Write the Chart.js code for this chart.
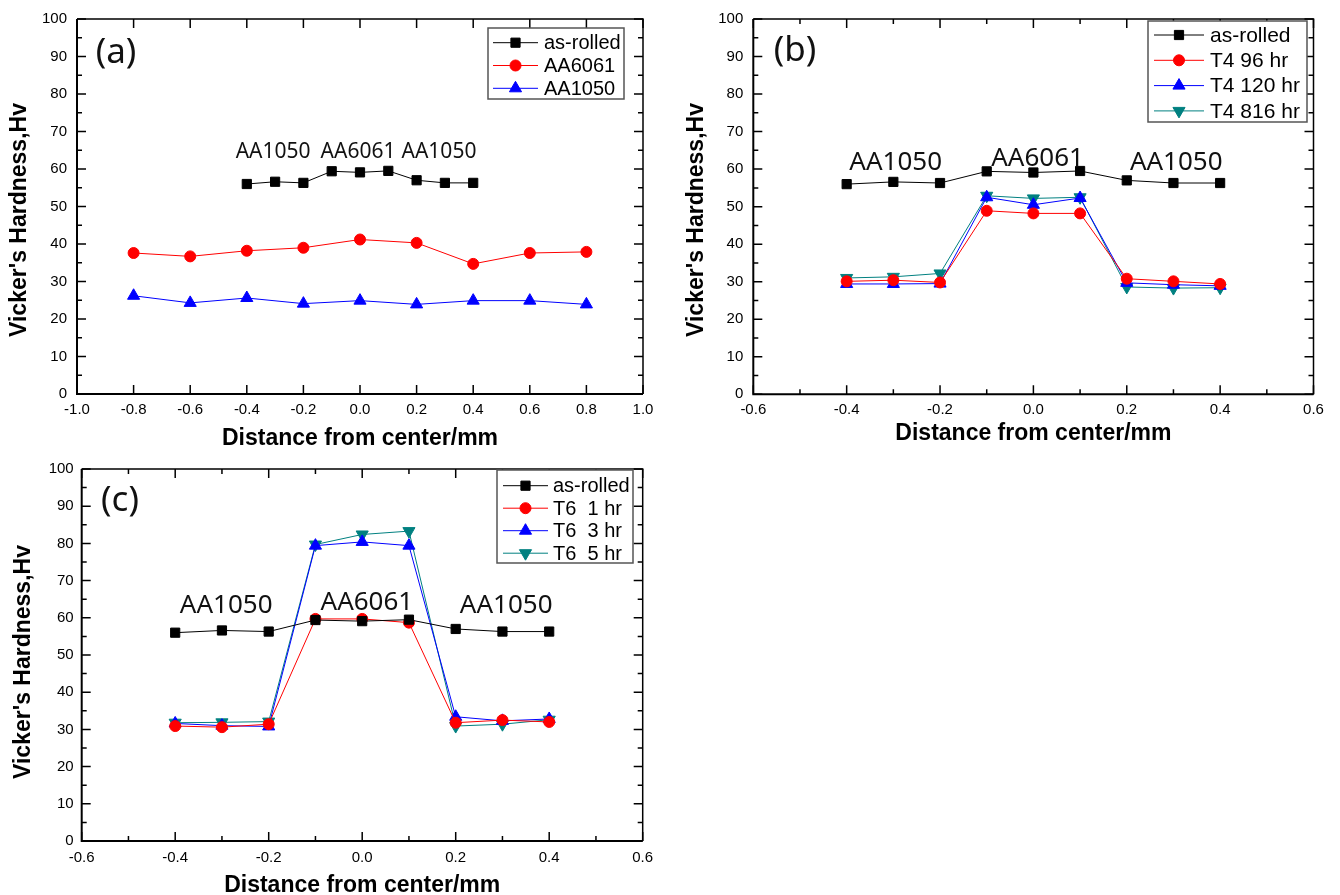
<!DOCTYPE html>
<html>
<head>
<meta charset="utf-8">
<title>Vicker's Hardness profiles</title>
<script src="https://cdn.jsdelivr.net/npm/chart.js@4.4.1/dist/chart.umd.min.js"></script>
<style>
    body { margin: 0; background: #fff; }
    #wrap { position: relative; width: 1340px; height: 895px; overflow: hidden; }
    canvas { position: absolute; }
    #panelA { left: 0; top: 0; }
    #panelB { left: 670px; top: 0; }
    #panelC { left: 0; top: 452px; }
</style>
</head>
<body>
<div id="wrap">
    <canvas id="panelA" width="670" height="452"></canvas>
    <canvas id="panelB" width="670" height="452"></canvas>
    <canvas id="panelC" width="670" height="443"></canvas>
</div>
<script>
// Positions across the joint (mm)
const xInner = [-0.4, -0.3, -0.2, -0.1, 0.0, 0.1, 0.2, 0.3, 0.4];
const xWide = [-0.8, -0.6, -0.4, -0.2, 0.0, 0.2, 0.4, 0.6, 0.8];

// Hardness values (Hv)
const asRolled = [56.0, 56.6, 56.3, 59.4, 59.1, 59.5, 57.0, 56.3, 56.3];
const aa6061 = [37.6, 36.7, 38.2, 39.0, 41.2, 40.3, 34.7, 37.6, 37.9];
const aa1050 = [26.2, 24.3, 25.6, 24.1, 24.9, 23.9, 24.9, 24.9, 23.9];
const t4h96 = [30.1, 30.4, 29.8, 48.9, 48.2, 48.2, 30.8, 30.1, 29.4];
const t4h120 = [29.4, 29.4, 29.5, 52.5, 50.5, 52.3, 29.7, 29.2, 28.9];
const t4h816 = [31.0, 31.3, 32.2, 52.9, 52.2, 52.5, 28.6, 28.3, 28.4];
const t6h1 = [30.9, 30.6, 31.4, 59.7, 59.7, 58.7, 31.8, 32.5, 32.0];
const t6h3 = [31.6, 31.0, 30.8, 79.4, 80.4, 79.4, 33.4, 32.3, 32.8];
const t6h5 = [31.8, 31.9, 32.1, 79.7, 82.4, 83.3, 30.9, 31.4, 32.6];

// Series names
const namesA = ['as-rolled', 'AA6061', 'AA1050'];
const namesB = ['as-rolled', 'T4 96 hr', 'T4 120 hr', 'T4 816 hr'];
const namesC = ['as-rolled', 'T6  1 hr', 'T6  3 hr', 'T6  5 hr'];

// Tick labels
const xTicksA = [-1.0, -0.8, -0.6, -0.4, -0.2, 0.0, 0.2, 0.4, 0.6, 0.8, 1.0];
const xTicksBC = [-0.6, -0.4, -0.2, 0.0, 0.2, 0.4, 0.6];
const yTicks = [0, 10, 20, 30, 40, 50, 60, 70, 80, 90, 100];

const xTitle = 'Distance from center/mm';
const yTitle = "Vicker's Hardness,Hv";

const SANS = "'Liberation Sans', Arial, sans-serif";
const NOTO = "'Noto Sans', 'Open Sans', sans-serif";

// marker styles per series slot
const styles = [
    { color: '#000000', pointStyle: 'rect', pointRadius: 6.5, pointRotation: 0 },
    { color: '#ff0000', pointStyle: 'circle', pointRadius: 5.5, pointRotation: 0 },
    { color: '#0000ff', pointStyle: 'triangle', pointRadius: 7, pointRotation: 0 },
    { color: '#008080', pointStyle: 'triangle', pointRadius: 7, pointRotation: 180 }
];

function makeSet(label, xs, ys, slot) {
    const s = styles[slot];
    return {
        label: label,
        data: xs.map((x, i) => ({ x: x, y: ys[i] })),
        borderColor: s.color,
        backgroundColor: s.color,
        borderWidth: 1,
        pointStyle: s.pointStyle,
        pointRadius: s.pointRadius,
        pointRotation: s.pointRotation,
        pointBorderWidth: 1,
        tension: 0,
        clip: false
    };
}

// Frame, inward ticks, legend box, labels
const decor = {
    id: 'decor',
    afterDraw(chart, args, o) {
        const { ctx, chartArea: a, scales: { x, y } } = chart;
        ctx.save();
        ctx.strokeStyle = '#000';

        // ticks on all four sides, pointing inward
        ctx.lineWidth = 1.5;
        const tick = (px, len, vertical) => {
            ctx.beginPath();
            if (vertical) {
                ctx.moveTo(px, a.bottom); ctx.lineTo(px, a.bottom - len);
                ctx.moveTo(px, a.top); ctx.lineTo(px, a.top + len);
            } else {
                ctx.moveTo(a.left, px); ctx.lineTo(a.left + len, px);
                ctx.moveTo(a.right, px); ctx.lineTo(a.right - len, px);
            }
            ctx.stroke();
        };
        const xs = x.ticks.map(t => t.value);
        xs.forEach(v => tick(x.getPixelForValue(v), 9, true));
        if (o.xMinor) {
            for (let i = 0; i < xs.length - 1; i++) {
                tick(x.getPixelForValue((xs[i] + xs[i + 1]) / 2), 5, true);
            }
        }
        const ys = y.ticks.map(t => t.value);
        ys.forEach(v => tick(y.getPixelForValue(v), 9, false));
        for (let i = 0; i < ys.length - 1; i++) {
            tick(y.getPixelForValue((ys[i] + ys[i + 1]) / 2), 5, false);
        }

        // frame
        ctx.lineWidth = 1.5;
        ctx.beginPath();
        ctx.moveTo(a.left, a.top); ctx.lineTo(a.right, a.top); ctx.lineTo(a.right, a.bottom);
        ctx.stroke();
        ctx.lineWidth = 2;
        ctx.beginPath();
        ctx.moveTo(a.left, a.top); ctx.lineTo(a.left, a.bottom); ctx.lineTo(a.right, a.bottom);
        ctx.stroke();

        // y title
        ctx.save();
        ctx.translate(o.yTitle.x, o.yTitle.y);
        ctx.rotate(-Math.PI / 2);
        ctx.fillStyle = '#000';
        ctx.font = 'bold 23px ' + SANS;
        ctx.textAlign = 'center';
        ctx.textBaseline = 'middle';
        ctx.fillText(yTitle, 0, 0);
        ctx.restore();

        // legend
        const L = o.legend;
        ctx.fillStyle = '#fff';
        ctx.fillRect(L.left, L.top, L.right - L.left, L.bottom - L.top);
        ctx.strokeStyle = '#555';
        ctx.lineWidth = 1.5;
        ctx.strokeRect(L.left, L.top, L.right - L.left, L.bottom - L.top);
        chart.data.datasets.forEach((ds, i) => {
            const yy = L.row0 + i * L.gap;
            ctx.strokeStyle = ds.borderColor;
            ctx.lineWidth = 1;
            ctx.beginPath();
            ctx.moveTo(L.lineL, yy); ctx.lineTo(L.lineR, yy);
            ctx.stroke();
            ctx.fillStyle = ds.backgroundColor;
            Chart.helpers.drawPoint(ctx, {
                pointStyle: ds.pointStyle,
                radius: ds.pointRadius,
                rotation: ds.pointRotation,
                borderWidth: 1
            }, (L.lineL + L.lineR) / 2, yy);
            ctx.fillStyle = '#000';
            ctx.font = L.font + 'px ' + SANS;
            ctx.textAlign = 'left';
            ctx.textBaseline = 'middle';
            ctx.fillText(ds.label, L.textX, yy + 1);
        });

        // region notes
        ctx.fillStyle = '#111';
        ctx.font = o.noteSize + 'px ' + NOTO;
        ctx.textAlign = 'center';
        ctx.textBaseline = 'alphabetic';
        o.notes.forEach(n => {
            ctx.fillText(n.text, x.getPixelForValue(n.x), y.getPixelForValue(n.y));
        });

        // panel tag
        ctx.font = '35px ' + NOTO;
        ctx.textBaseline = 'middle';
        ctx.fillText(o.tag.text, o.tag.x, o.tag.y);
        ctx.restore();
    }
};

function makeChart(id, cfg) {
    const ctx = document.getElementById(id).getContext('2d');
    return new Chart(ctx, {
        type: 'line',
        data: { datasets: cfg.datasets },
        options: {
            responsive: false,
            animation: false,
            events: [],
            layout: { padding: cfg.padding },
            plugins: {
                legend: { display: false },
                tooltip: { enabled: false },
                decor: cfg.decor
            },
            scales: {
                x: {
                    type: 'linear',
                    min: cfg.xTicks[0],
                    max: cfg.xTicks[cfg.xTicks.length - 1],
                    afterBuildTicks: s => { s.ticks = cfg.xTicks.map(v => ({ value: v })); },
                    afterFit: s => { s.height = cfg.xHeight; },
                    grid: { display: false, drawTicks: false },
                    border: { display: false },
                    ticks: {
                        autoSkip: false,
                        maxRotation: 0,
                        padding: cfg.xPad,
                        color: '#000',
                        font: { family: SANS, size: 15 },
                        callback: v => (Math.abs(v) < 1e-9 ? 0 : v).toFixed(1)
                    },
                    title: {
                        display: true,
                        text: xTitle,
                        color: '#000',
                        font: { family: SANS, size: 23, weight: 'bold' },
                        padding: { top: 0, bottom: cfg.xTitlePad }
                    }
                },
                y: {
                    min: 0,
                    max: 100,
                    afterBuildTicks: s => { s.ticks = yTicks.map(v => ({ value: v })); },
                    afterFit: s => { s.width = cfg.yWidth; },
                    grid: { display: false, drawTicks: false },
                    border: { display: false },
                    ticks: {
                        padding: cfg.yPad,
                        color: '#000',
                        font: { family: SANS, size: 15 }
                    }
                }
            }
        },
        plugins: [decor]
    });
}

document.addEventListener('DOMContentLoaded', function() {
    // (a) as-rolled vs. base alloys
    makeChart('panelA', {
        datasets: [
            makeSet(namesA[0], xInner, asRolled, 0),
            makeSet(namesA[1], xWide, aa6061, 1),
            makeSet(namesA[2], xWide, aa1050, 2)
        ],
        xTicks: xTicksA,
        padding: { top: 16, right: 27, left: 0, bottom: 0 },
        yWidth: 77, xHeight: 58, xPad: 7, yPad: 10, xTitlePad: 0,
        decor: {
            xMinor: false,
            yTitle: { x: 20, y: 220 },
            legend: { left: 488, top: 28, right: 624, bottom: 99, row0: 42.7, gap: 22.8, lineL: 493, lineR: 538, textX: 544, font: 20 },
            noteSize: 21,
            notes: [
                { text: 'AA1050', x: -0.307, y: 62.9 },
                { text: 'AA6061', x: -0.007, y: 62.9 },
                { text: 'AA1050', x: 0.279, y: 62.9 }
            ],
            tag: { text: '(a)', x: 116, y: 53 }
        }
    });

    // (b) T4 ageing
    makeChart('panelB', {
        datasets: [
            makeSet(namesB[0], xInner, asRolled, 0),
            makeSet(namesB[1], xInner, t4h96, 1),
            makeSet(namesB[2], xInner, t4h120, 2),
            makeSet(namesB[3], xInner, t4h816, 3)
        ],
        xTicks: xTicksBC,
        padding: { top: 16, right: 26.5, left: 0, bottom: 0 },
        yWidth: 83.3, xHeight: 57.7, xPad: 7, yPad: 10, xTitlePad: 5,
        decor: {
            xMinor: true,
            yTitle: { x: 27, y: 220 },
            legend: { left: 478, top: 21, right: 637, bottom: 122, row0: 35, gap: 25.3, lineL: 484, lineR: 534, textX: 540, font: 21 },
            noteSize: 26,
            notes: [
                { text: 'AA1050', x: -0.295, y: 59.8 },
                { text: 'AA6061', x: 0.009, y: 60.7 },
                { text: 'AA1050', x: 0.306, y: 59.8 }
            ],
            tag: { text: '(b)', x: 125, y: 51 }
        }
    });

    // (c) T6 ageing
    makeChart('panelC', {
        datasets: [
            makeSet(namesC[0], xInner, asRolled, 0),
            makeSet(namesC[1], xInner, t6h1, 1),
            makeSet(namesC[2], xInner, t6h3, 2),
            makeSet(namesC[3], xInner, t6h5, 3)
        ],
        xTicks: xTicksBC,
        padding: { top: 12, right: 27.3, left: 0, bottom: 0 },
        yWidth: 81.7, xHeight: 54, xPad: 8, yPad: 8, xTitlePad: -4,
        decor: {
            xMinor: true,
            yTitle: { x: 24, y: 210 },
            legend: { left: 497, top: 18, right: 633, bottom: 111, row0: 33.7, gap: 22.5, lineL: 503, lineR: 548, textX: 553, font: 20 },
            noteSize: 26,
            notes: [
                { text: 'AA1050', x: -0.291, y: 61.3 },
                { text: 'AA6061', x: 0.010, y: 62.0 },
                { text: 'AA1050', x: 0.308, y: 61.3 }
            ],
            tag: { text: '(c)', x: 120, y: 49 }
        }
    });
});
</script>
</body>
</html>
